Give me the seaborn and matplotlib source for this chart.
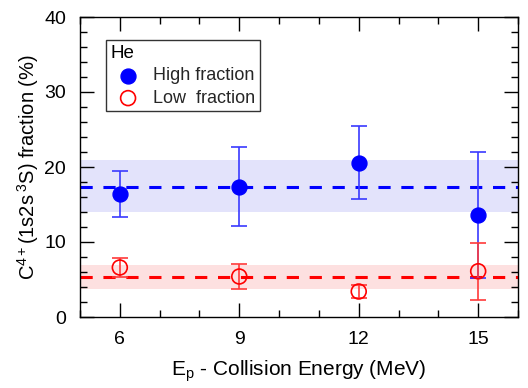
import matplotlib
matplotlib.use("Agg")
import matplotlib.pyplot as plt
import seaborn as sns
import pandas as pd
from matplotlib.ticker import MultipleLocator

energy = [6, 9, 12, 15]
high_frac = [16.4, 17.4, 20.6, 13.6]
high_err = [3.1, 5.3, 4.9, 8.4]
low_frac = [6.6, 5.4, 3.4, 6.1]
low_err = [1.3, 1.7, 0.9, 3.8]
high_mean = 17.4
high_band = (14.0, 20.9)
low_mean = 5.4
low_band = (3.8, 6.9)

sns.set_theme(style="ticks")
plt.rcParams['font.family'] = ['Liberation Sans', 'DejaVu Sans']
plt.rcParams['mathtext.fontset'] = 'custom'
plt.rcParams['mathtext.rm'] = 'Liberation Sans'
plt.rcParams['mathtext.it'] = 'Liberation Sans'

fig = plt.figure(figsize=(5.28, 3.88), dpi=100)
ax = fig.add_axes([80/528, 1-317/388, 438/528, 300/388])

blue = "#0000ff"
red = "#ff0000"

ax.axhspan(*high_band, color="#e3e3fb", lw=0, zorder=0)
ax.axhspan(*low_band, color="#fde0e0", lw=0, zorder=0)
ax.axhline(high_mean, color=blue, lw=2.2, ls=(0, (4, 3.5)), zorder=2)
ax.axhline(low_mean, color=red, lw=2.2, ls=(0, (4, 3.5)), zorder=2)

ax.errorbar(energy, high_frac, yerr=high_err, fmt='none', ecolor="#3a3aff",
            elinewidth=1.2, capsize=5.5, capthick=1.2, zorder=3)
ax.errorbar(energy, low_frac, yerr=low_err, fmt='none', ecolor="#ff3a3a",
            elinewidth=1.2, capsize=5.5, capthick=1.2, zorder=3)

df_h = pd.DataFrame({"E": energy, "f": high_frac})
df_l = pd.DataFrame({"E": energy, "f": low_frac})
sns.scatterplot(data=df_h, x="E", y="f", ax=ax, color=blue, s=115, marker='o',
                edgecolor=blue, linewidth=1, zorder=4, label="High fraction")
sns.scatterplot(data=df_l, x="E", y="f", ax=ax, facecolor='none', s=115, marker='o',
                edgecolor=red, linewidth=1.2, zorder=4, label="Low  fraction")

ax.set_xlim(5, 16)
ax.set_ylim(0, 40)
ax.xaxis.set_major_locator(MultipleLocator(3))
ax.xaxis.set_minor_locator(MultipleLocator(1))
ax.yaxis.set_major_locator(MultipleLocator(10))
ax.yaxis.set_minor_locator(MultipleLocator(2))
ax.tick_params(which='both', direction='in', top=True, right=True, color='black',
               labelsize=14, width=1, labelcolor='black')
ax.tick_params(which='major', length=10, pad=10)
ax.tick_params(which='minor', length=5)
for s in ax.spines.values():
    s.set_color('black')
    s.set_linewidth(1)

ax.set_xlabel(r"E$_\mathrm{p}$ - Collision Energy (MeV)", fontsize=15, labelpad=8,
              color='black')
ax.set_ylabel(r"C$^{4+}$(1s2s$\,^{3}$S) fraction (%)", fontsize=14.5, labelpad=2,
              color='black')

leg = ax.legend(title="He", loc='upper left', bbox_to_anchor=(25.5/438, 1-23.5/300),
                fontsize=13, frameon=True, fancybox=False,
                edgecolor='black', handletextpad=0.4, borderpad=0.25, labelspacing=0.3,
                markerscale=1.0, borderaxespad=0)
leg.set_title("He", prop={'size': 13.5, 'family': ['Liberation Sans']})
leg.get_title().set_color('black')
leg._legend_box.align = "left"
leg.get_frame().set_linewidth(1)

fig.savefig("out.png", dpi=100)
